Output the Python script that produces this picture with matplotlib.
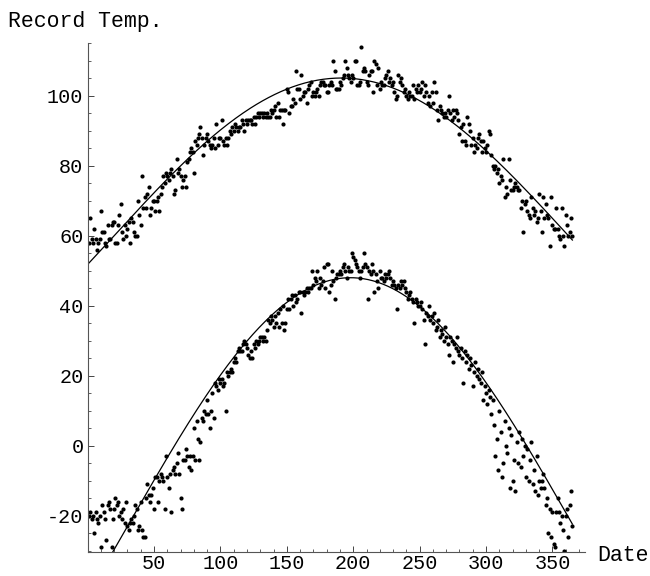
import numpy as np
import matplotlib
matplotlib.use("Agg")
import matplotlib.pyplot as plt
from matplotlib.ticker import MultipleLocator, FuncFormatter

# record high / low temperatures by day of year
days = np.arange(1, 366)

record_high = [
    58, 65, 59, 58, 62, 59, 56, 58, 59, 67, 61, 61, 58, 57, 63, 59, 59, 63, 64, 64,
    58, 58, 63, 66, 69, 61, 59, 63, 60, 62, 64, 58, 65, 64, 61, 60, 60, 70, 66, 63,
    77, 68, 71, 68, 72, 74, 66, 68, 70, 70, 67, 70, 71, 67, 72, 74, 77, 75, 78, 77,
    76, 78, 79, 77, 72, 73, 82, 78, 79, 77, 74, 76, 77, 74, 81, 82, 84, 85, 84, 78,
    87, 86, 88, 89, 91, 88, 83, 86, 88, 89, 87, 86, 85, 86, 88, 85, 92, 86, 88, 88,
    93, 87, 86, 88, 86, 88, 90, 89, 91, 90, 92, 91, 90, 91, 91, 93, 92, 90, 93, 92,
    93, 93, 93, 92, 94, 92, 94, 95, 94, 95, 95, 94, 95, 94, 95, 94, 94, 96, 95, 96,
    97, 94, 98, 94, 96, 96, 92, 96, 96, 102, 101, 95, 97, 97, 99, 98, 107, 102, 102, 99,
    106, 100, 101, 101, 98, 102, 103, 104, 100, 101, 100, 101, 102, 100, 103, 104, 104, 103, 103, 101,
    101, 103, 104, 103, 110, 107, 102, 102, 102, 104, 103, 105, 106, 110, 108, 106, 105, 104, 106, 105,
    110, 110, 103, 103, 104, 114, 107, 108, 107, 104, 103, 106, 107, 107, 101, 110, 109, 103, 108, 102,
    104, 103, 103, 105, 106, 107, 104, 105, 103, 104, 101, 99, 100, 106, 104, 105, 103, 101, 102, 100,
    99, 101, 100, 100, 103, 99, 102, 101, 103, 101, 102, 104, 100, 103, 101, 98, 100, 97, 101, 98,
    104, 101, 96, 93, 97, 96, 95, 94, 95, 94, 96, 100, 95, 93, 96, 94, 96, 95, 93, 89,
    91, 87, 92, 87, 86, 94, 92, 90, 86, 88, 84, 86, 85, 88, 89, 87, 84, 87, 85, 84,
    86, 90, 89, 83, 80, 79, 80, 78, 79, 75, 77, 76, 82, 71, 74, 72, 82, 76, 73, 73,
    74, 75, 74, 73, 73, 68, 70, 61, 69, 70, 67, 66, 65, 71, 68, 66, 67, 64, 65, 72,
    67, 61, 71, 65, 69, 66, 65, 57, 71, 63, 62, 62, 68, 62, 60, 59, 68, 60, 57, 66,
    63, 60, 61, 65, 60,
]

record_low = [
    -20, -19, -21, -20, -25, -19, -21, -22, -20, -29, -17, -19, -21, -27, -17, -16, -18, -29, -21, -18,
    -15, -17, -16, -20, -19, -21, -18, -22, -16, -23, -24, -22, -21, -22, -20, -17, -18, -24, -23, -16,
    -24, -26, -26, -15, -11, -14, -16, -14, -12, -18, -9, -9, -16, -10, -8, -9, -10, -18, -3, -9,
    -12, -8, -19, -7, -6, -8, -5, -2, -8, -15, -18, -4, -4, -1, -3, -6, -3, -7, -3, 5,
    -4, 7, 2, -4, 1, 8, 7, 10, 9, 13, 9, 5, 10, 15, 8, 18, 17, 16, 19, 18,
    19, 17, 18, 10, 21, 20, 21, 22, 21, 24, 25, 24, 27, 28, 27, 27, 29, 30, 29, 28,
    26, 25, 27, 25, 29, 28, 30, 29, 30, 31, 31, 30, 31, 30, 33, 36, 35, 37, 36, 34,
    37, 35, 38, 34, 39, 35, 40, 33, 35, 39, 42, 39, 42, 43, 40, 43, 41, 42, 44, 44,
    38, 44, 43, 44, 45, 44, 45, 45, 50, 46, 48, 47, 50, 45, 48, 46, 47, 51, 45, 52,
    52, 44, 46, 50, 47, 42, 48, 49, 49, 50, 49, 51, 52, 50, 48, 51, 50, 50, 55, 54,
    53, 52, 51, 50, 48, 50, 51, 55, 52, 51, 42, 50, 49, 52, 50, 44, 49, 47, 45, 50,
    48, 48, 47, 49, 48, 49, 50, 48, 46, 47, 46, 45, 39, 46, 45, 47, 46, 47, 45, 44,
    42, 43, 44, 42, 41, 35, 42, 41, 40, 40, 41, 39, 36, 29, 38, 37, 40, 36, 37, 35,
    38, 33, 34, 36, 31, 33, 32, 30, 34, 31, 29, 26, 31, 30, 24, 29, 28, 31, 27, 26,
    28, 25, 18, 27, 24, 26, 22, 25, 23, 17, 21, 24, 20, 22, 19, 18, 21, 13, 17, 15,
    12, 16, 14, 9, 13, 6, -3, 2, -7, 10, 4, -9, -5, 7, 0, -2, 5, -12, 3, -10,
    -4, -13, 1, -5, 4, -6, 2, -3, 0, -9, -1, -10, -4, 1, -11, -7, -13, -3, -14, -10,
    -12, -10, -8, -12, -17, -15, -25, -18, -26, -19, -28, -29, -19, -15, -19, -22, -20, -24, -30, -20,
    -18, -26, -17, -13, -23,
]

# fitted curves: mean + amp * cos(freq * (day - peak_day))
fit_mean = [60.1, -22.4]
fit_amp = [44.9, 70.4]
fit_freq = [0.0092, 0.0094]
fit_peak_day = [191, 198]

xticks = [50, 100, 150, 200, 250, 300, 350]
yticks = [-20, 0, 20, 40, 60, 80, 100]

plt.rcParams['font.family'] = ['Liberation Mono', 'DejaVu Sans Mono']

fig = plt.figure(figsize=(6.5, 5.76), dpi=100)
ax = fig.add_axes([87.6 / 650, 24 / 576, (585 - 87.6) / 650, (552 - 43) / 576])

xs = np.linspace(0, 365, 400)
for i, vals in enumerate((record_high, record_low)):
    curve = fit_mean[i] + fit_amp[i] * np.cos(fit_freq[i] * (xs - fit_peak_day[i]))
    ax.plot(xs, curve, color='black', lw=0.9)
    ax.plot(days, vals, 'o', color='black', ms=3.0, mew=0)

ax.set_xlim(0, 374.5)
ax.set_ylim(-30.3, 115)

for s in ('top', 'right'):
    ax.spines[s].set_visible(False)
for s in ('left', 'bottom'):
    ax.spines[s].set_color('#555555')
    ax.spines[s].set_linewidth(0.8)

ax.set_xticks(xticks)
ax.set_yticks(yticks)
ax.xaxis.set_minor_locator(MultipleLocator(10))
ax.yaxis.set_minor_locator(MultipleLocator(5))
fmt = FuncFormatter(lambda v, p: '%d' % v)
ax.xaxis.set_major_formatter(fmt)
ax.yaxis.set_major_formatter(fmt)
ax.tick_params(which='major', direction='in', length=4.5, width=0.7,
               color='#444444', labelsize=14.5, pad=1.5)
ax.tick_params(axis='y', which='major', pad=3)
ax.tick_params(which='minor', direction='in', length=2.5, width=0.6, color='#444444')

fig.text(8 / 650, 1 - 27 / 576, 'Record Temp.', fontsize=15.5, va='baseline', ha='left')
fig.text(597 / 650, 1 - 561 / 576, 'Date', fontsize=15.5, va='baseline', ha='left')

fig.savefig('out.png', dpi=100)
